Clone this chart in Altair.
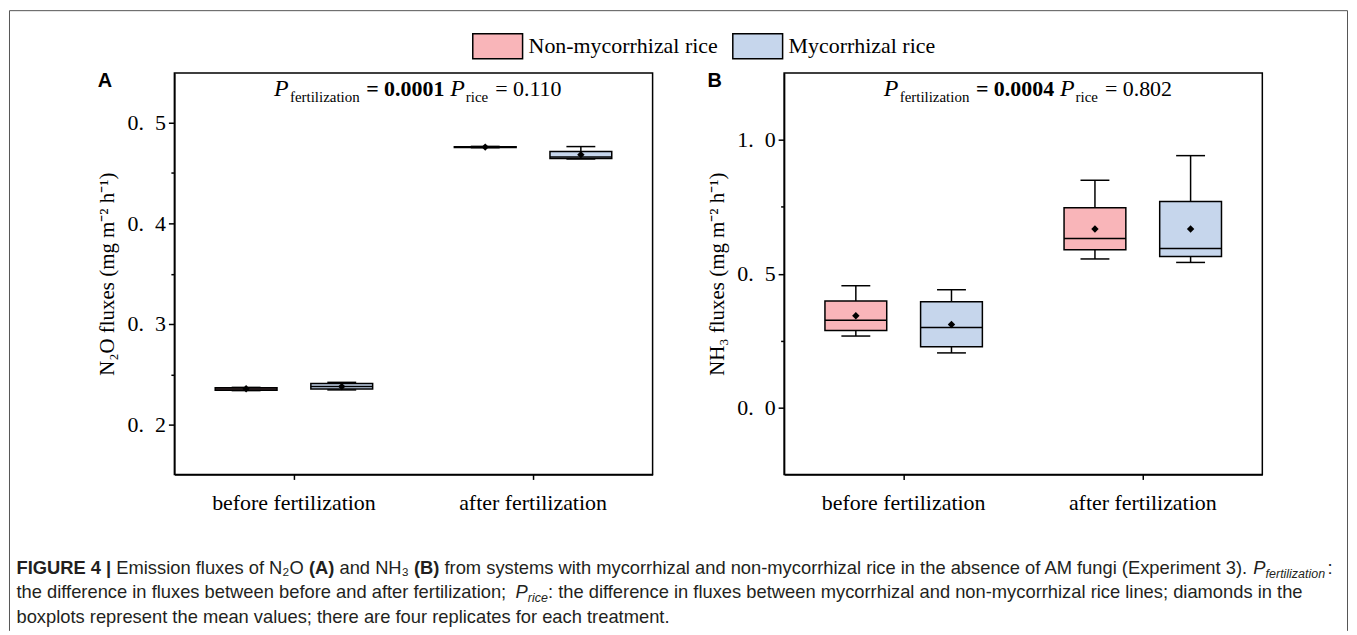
import altair as alt
import pandas as pd

SERIF = "Liberation Serif"
SANS = "Liberation Sans"

periods = ["before fertilization", "after fertilization"]
groups = ["Non-mycorrhizal rice", "Mycorrhizal rice"]
fills = ["#F9B5B9", "#C6D6EC"]

period_col = [periods[0], periods[0], periods[1], periods[1]]
group_col = [groups[0], groups[1], groups[0], groups[1]]

# Panel A: N2O fluxes (mg m-2 h-1)
n2o_lo = [0.2338, 0.2345, 0.4752, 0.4640]
n2o_q1 = [0.2341, 0.2354, 0.4755, 0.4645]
n2o_med = [0.2354, 0.2380, 0.4758, 0.4660]
n2o_q3 = [0.2367, 0.2408, 0.4762, 0.4714]
n2o_hi = [0.2370, 0.2420, 0.4765, 0.4763]
n2o_mean = [0.2357, 0.2378, 0.4758, 0.4683]

# Panel B: NH3 fluxes (mg m-2 h-1)
nh3_lo = [0.267, 0.204, 0.555, 0.542]
nh3_q1 = [0.288, 0.227, 0.589, 0.564]
nh3_med = [0.326, 0.299, 0.631, 0.594]
nh3_q3 = [0.398, 0.395, 0.746, 0.770]
nh3_hi = [0.455, 0.440, 0.849, 0.941]
nh3_mean = [0.343, 0.310, 0.667, 0.667]

W, H = 480, 403

LABEL_EXPR = ("abs(round(datum.value*100) % 10) == 0 ? "
              "replace(format(datum.value, '.1f'), '.', '.\u2002') : ''")
MINOR_TEST = "abs(round(datum.value*100) % 10) != 0"


def txt(s, x, y, size, font=SERIF, style="normal", weight="normal", color="black"):
    return alt.Chart(pd.DataFrame({"t": [s]})).mark_text(
        align="left", baseline="alphabetic", font=font, fontSize=size,
        fontStyle=style, fontWeight=weight, color=color
    ).encode(text="t:N", x=alt.value(x), y=alt.value(y))


def border_rule(**enc):
    return alt.Chart(pd.DataFrame({"k": [0]})).mark_rule(
        color="#555555", strokeWidth=1
    ).encode(**{k: alt.value(v) for k, v in enc.items()})


def panel(lo, q1, med, q3, hi, mean, ydom, ticks, ytitle, letter, pf, pr):
    df = pd.DataFrame({"period": period_col, "group": group_col, "lo": lo, "q1": q1,
                       "med": med, "q3": q3, "hi": hi, "mean": mean})
    xenc = alt.X("period:N", sort=periods,
                 scale=alt.Scale(domain=periods, paddingInner=0, paddingOuter=0),
                 axis=alt.Axis(title=None, labelFont=SERIF, labelFontSize=22, labelColor="black",
                               labelAngle=0, tickSize=5, tickColor="black", tickWidth=1.5,
                               domainColor="black", domainWidth=1.5, labelPadding=13))
    xoff = alt.XOffset("group:N", sort=groups,
                       scale=alt.Scale(domain=groups, paddingInner=0.354, paddingOuter=0.427))
    yscale = alt.Scale(domain=ydom, nice=False, zero=False)
    yaxis = alt.Axis(values=ticks, title=ytitle, labelExpr=LABEL_EXPR,
                     labelFont=SERIF, labelFontSize=22, labelColor="black", labelPadding=3,
                     tickSize={"condition": {"test": MINOR_TEST, "value": 3.5}, "value": 6},
                     tickColor="black", tickWidth=1.5, domainColor="black", domainWidth=1.5,
                     titleFont=SERIF, titleFontSize=21, titleFontWeight="normal",
                     titleColor="black", titleX=-61, titleBaseline="alphabetic", grid=False)

    def Y(f):
        return alt.Y(f"{f}:Q", scale=yscale, axis=yaxis)

    base = alt.Chart(df).encode(x=xenc, xOffset=xoff)
    low = base.mark_rule(color="black", strokeWidth=1.5).encode(y=Y("lo"), y2="q1:Q")
    high = base.mark_rule(color="black", strokeWidth=1.5).encode(y=Y("q3"), y2="hi:Q")
    cap_lo = base.mark_tick(color="black", size=29, thickness=1.5, opacity=1).encode(y=Y("lo"))
    cap_hi = base.mark_tick(color="black", size=29, thickness=1.5, opacity=1).encode(y=Y("hi"))
    box = base.mark_bar(stroke="black", strokeWidth=1.5, opacity=1).encode(
        y=Y("q1"), y2="q3:Q",
        color=alt.Color("group:N", sort=groups, scale=alt.Scale(domain=groups, range=fills),
                        legend=alt.Legend(orient="none", legendX=298.5, legendY=-53,
                                          direction="horizontal", title=None,
                                          symbolType="M-1,-0.5H1V0.5H-1Z", symbolSize=2500,
                                          symbolStrokeColor="black", symbolStrokeWidth=1.5,
                                          symbolOpacity=1, labelLimit=400,
                                          labelFont=SERIF, labelFontSize=22, labelColor="black",
                                          labelOffset=5, columnPadding=12, padding=0)))
    medl = base.mark_tick(color="black", size=62, thickness=1.5, opacity=1).encode(y=Y("med"))
    meanp = base.mark_point(shape="diamond", filled=True, color="black", size=55,
                            opacity=1).encode(y=Y("mean"))

    notes = [
        txt(letter, -77, 14, 20, font=SANS, weight="bold"),
        txt("P", 100, 23.5, 24, style="italic"),
        txt("fertilization", 116, 29, 15),
        txt(pf, 192.5, 23.5, 22, weight="bold"),
        txt("P", 277, 23.5, 24, style="italic"),
        txt("rice", 292.5, 29, 15),
        txt(pr, 322, 23.5, 22),
    ]
    return alt.layer(low, high, cap_lo, cap_hi, box, medl, meanp, *notes)


A = panel(n2o_lo, n2o_q1, n2o_med, n2o_q3, n2o_hi, n2o_mean, [0.1505, 0.5495],
          [0.2, 0.25, 0.3, 0.35, 0.4, 0.45, 0.5],
          "N\u2082O fluxes (mg m\u207b\u00b2 h\u207b\u00b9)", "A", "= 0.0001", "= 0.110")
B = panel(nh3_lo, nh3_q1, nh3_med, nh3_q3, nh3_hi, nh3_mean, [-0.25, 1.25],
          [0.0, 0.25, 0.5, 0.75, 1.0],
          "NH\u2083 fluxes (mg m\u207b\u00b2 h\u207b\u00b9)", "B", "= 0.0004", "= 0.802")

# caption and outer frame, attached to panel A (positions relative to its plot origin)
CAP = 18.4
SUB = 12.5
CC = "#231f20"
OX = -175.5  # page x -> panel x
L1, L2, L3 = 503, 527.5, 552
caption = [
    txt("FIGURE 4 |", 17 + OX, L1, CAP, font=SANS, weight="bold", color=CC),
    txt("Emission fluxes of N\u2082O", 117.2 + OX, L1, CAP, font=SANS, color=CC),
    txt("(A)", 310.6 + OX, L1, CAP, font=SANS, weight="bold", color=CC),
    txt("and NH\u2083", 341.2 + OX, L1, CAP, font=SANS, color=CC),
    txt("(B)", 416 + OX, L1, CAP, font=SANS, weight="bold", color=CC),
    txt("from systems with mycorrhizal and non-mycorrhizal rice in the absence of AM fungi (Experiment 3).",
        446.6 + OX, L1, CAP, font=SANS, color=CC),
    txt("P", 1258.5 + OX, L1, CAP, font=SANS, style="italic", color=CC),
    txt("fertilization", 1270.8 + OX, L1 + 3.5, SUB, font=SANS, style="italic", color=CC),
    txt(":", 1333 + OX, L1, CAP, font=SANS, color=CC),
    txt("the difference in fluxes between before and after fertilization;", 17 + OX, L2, CAP,
        font=SANS, color=CC),
    txt("P", 518 + OX, L2, CAP, font=SANS, style="italic", color=CC),
    txt("rice", 530.3 + OX, L2 + 3.5, SUB, font=SANS, style="italic", color=CC),
    txt(": the difference in fluxes between mycorrhizal and non-mycorrhizal rice lines; diamonds in the",
        550.5 + OX, L2, CAP, font=SANS, color=CC),
    txt("boxplots represent the mean values; there are four replicates for each treatment.",
        17 + OX, L3, CAP, font=SANS, color=CC),
]
frame = [
    border_rule(x=-165.5, y=-62.5, y2=560),
    border_rule(x=-165.5, x2=1177.5, y=-62.5),
    border_rule(x=1177.5, y=-62.5, y2=560),
]

A = alt.layer(A, *caption, *frame).properties(width=W, height=H)
B = B.properties(width=W, height=H)

chart = alt.hconcat(A, B, spacing=132, bounds="flush").configure_view(
    stroke="black", strokeWidth=1.5
).configure_axis(grid=False).properties(
    padding={"left": 0, "top": 0, "right": 0, "bottom": 0}
)

chart.save("out.html", embed_options={"renderer": "svg", "actions": False})
